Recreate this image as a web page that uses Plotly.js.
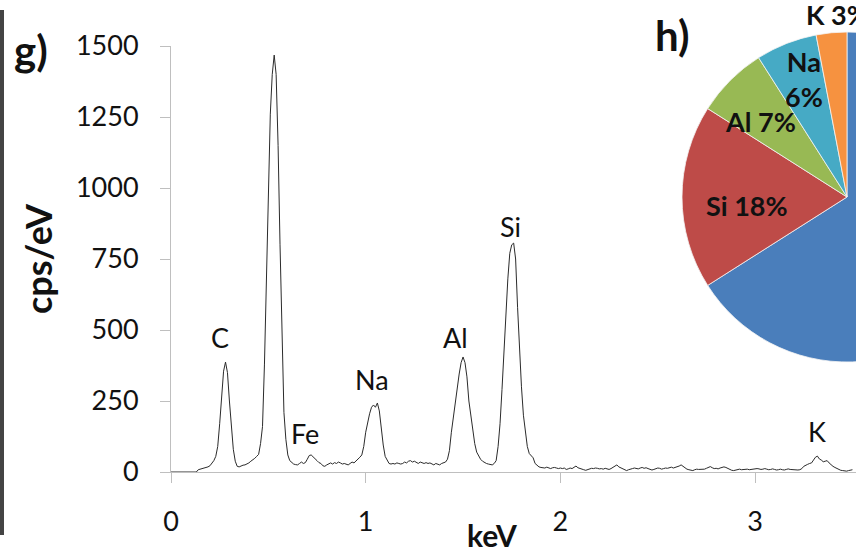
<!DOCTYPE html>
<html>
<head>
<meta charset="utf-8">
<script src="https://cdn.plot.ly/plotly-3.0.1.min.js"></script>
<style>
html,body{margin:0;padding:0;overflow:hidden;background:#fff;}
#chart{width:1012px;height:555px;}
</style>
</head>
<body>
<div id="chart"></div>
<script>
// EDS spectrum: counts (cps/eV) sampled every 0.01 keV starting at 0 keV
const spectrumStartKeV = 0;
const spectrumStepKeV = 0.01;
const spectrumCps = [
0,0,0,0,0,0,0,0,0,0,0,0,0,0,
8,10,12,13,15,18,22,30,40,55,90,170,270,355,387,350,250,160,80,38,20,18,22,24,25,28,32,38,42,48,55,62,
100,160,380,640,980,1260,1400,1468,1400,1150,800,450,210,115,60,40,32,28,26,25,30,35,30,33,45,58,60,52,48,40,33,30,
22,20,25,30,32,28,33,30,35,32,28,30,27,25,30,35,32,38,45,52,60,90,140,180,205,228,236,228,243,215,150,95,55,40,30,28,30,28,32,30,28,30,35,32,38,40,35,38,33,30,35,32,30,
33,30,32,28,25,30,28,25,30,32,35,45,75,140,195,245,290,345,385,405,385,335,250,195,150,100,70,55,45,38,33,30,28,26,25,30,40,
90,170,290,430,560,680,770,800,806,750,580,420,300,200,140,90,65,58,50,30,22,18,16,15,14,17,15,12,15,16,14,12,14,
12,14,9,11,14,12,16,21,15,12,10,8,6,8,11,13,12,14,13,11,12,10,13,11,9,12,16,20,25,18,14,10,8,5,8,11,12,14,13,11,14,16,13,15,12,10,7,9,12,14,13,10,12,14,13,15,17,14,16,18,21,25,19,14,10,8,6,5,8,10,9,9,8,10,13,17,19,15,12,13,11,14,16,18,16,12,9,6,5,7,9,10,8,9,11,10,8,9,11,10,12,11,9,10,12,10,8,9,11,9,7,8,10,8,7,9,11,9,8,7,8,7,8,
12,20,25,27,30,32,42,52,56,46,42,36,38,40,32,24,20,16,12,8,6,5,4,3,5,7,8
];
const xTickVals = [0, 1, 2, 3];
const yTickVals = [0, 250, 500, 750, 1000, 1250, 1500];
const xTitle = 'keV';
const yTitle = 'cps/eV';

// Peak labels
const peakNames = ['C', 'O', 'Fe', 'Na', 'Al', 'Si', 'K'];
const peakLabelKeV = [0.252, 0.517, 0.688, 1.032, 1.459, 1.746, 3.318];
const peakLabelCps = [472, 1568, 137, 324, 475, 863, 141];

// Composition pie (h)
const pieLabels = ['O', 'Si', 'Al', 'Na', 'K'];
const pieValues = [66, 18, 7, 6, 3];
const pieColors = ['#4A7EBB', '#BE4B48', '#98B954', '#46AAC5', '#F69240'];

const W = 1012, H = 555;
const px = v => v / W;
const py = v => 1 - v / H;
const font = 'Lato, "Open Sans", sans-serif';

const traces = [
  {
    type: 'scatter', mode: 'lines',
    x0: spectrumStartKeV, dx: spectrumStepKeV, y: spectrumCps,
    line: {color: '#2b2b2b', width: 1},
    hoverinfo: 'x+y', showlegend: false
  },
  {
    type: 'pie', labels: pieLabels, values: pieValues,
    marker: {colors: pieColors, line: {color: '#f4f4f4', width: 0.8}},
    sort: false, direction: 'clockwise', rotation: 0,
    textinfo: 'none', showlegend: false, hole: 0,
    domain: {x: [px(682), px(1012)], y: [1 - 362 / H, 1 - 32 / H]}
  }
];

const annotations = [];
peakNames.forEach((n, i) => {
  annotations.push({xref: 'x', yref: 'y', x: peakLabelKeV[i], y: peakLabelCps[i],
    xanchor: 'center', yanchor: 'middle',
    text: n, showarrow: false, font: {family: font, size: 27, color: '#111'}});
});
function paperText(text, x, y, size, extra) {
  return Object.assign({xref: 'paper', yref: 'paper', x: px(x), y: py(y),
    xanchor: 'center', yanchor: 'middle', text: text, showarrow: false,
    font: {family: font, size: size, color: '#111'}}, extra || {});
}
annotations.push(paperText('<b>' + pieLabels[1] + ' ' + pieValues[1] + '%</b>', 747, 205, 27));
annotations.push(paperText('<b>' + pieLabels[2] + ' ' + pieValues[2] + '%</b>', 760, 122, 27));
annotations.push(paperText('<b>' + pieLabels[3] + '<br>' + pieValues[3] + '%</b>', 804, 79, 27));
annotations.push(paperText('<b>' + pieLabels[4] + ' ' + pieValues[4] + '%</b>', 804, 15, 27, {xanchor: 'left'}));
annotations.push(paperText('<b>g)</b>', 31, 50, 42));
annotations.push(paperText('<b>h)</b>', 672, 35, 42));
annotations.push(paperText('<b>' + xTitle + '</b>', 492, 535, 30));

const axisCommon = {
  showline: true, linecolor: '#bfbfbf', linewidth: 1,
  ticks: 'outside', ticklen: 10, tickcolor: '#bfbfbf', tickwidth: 1,
  showgrid: false, zeroline: false,
  tickfont: {family: font, size: 27, color: '#111'},
  ticklabelstandoff: 16, fixedrange: true
};

const layout = {
  width: W, height: H, autosize: false,
  margin: {l: 0, r: 0, t: 0, b: 0},
  paper_bgcolor: '#fff', plot_bgcolor: '#fff',
  showlegend: false,
  xaxis: Object.assign({}, axisCommon, {
    domain: [px(171), px(856)], range: [0, (856 - 171) / 194.7],
    tickmode: 'array', tickvals: xTickVals
  }),
  yaxis: Object.assign({}, axisCommon, {
    domain: [1 - 472 / H, 1 - 46 / H], range: [0, 1500],
    tickmode: 'array', tickvals: yTickVals,
    title: {text: '<b>' + yTitle + '</b>', font: {family: font, size: 36, color: '#111'}, standoff: 12}
  }),
  annotations: annotations,
  shapes: [{type: 'rect', xref: 'paper', yref: 'paper', x0: 0, x1: px(4), y0: py(535), y1: py(10),
    fillcolor: '#444', line: {width: 0}}]
};

Plotly.newPlot('chart', traces, layout, {displayModeBar: false, staticPlot: true});
</script>
</body>
</html>
